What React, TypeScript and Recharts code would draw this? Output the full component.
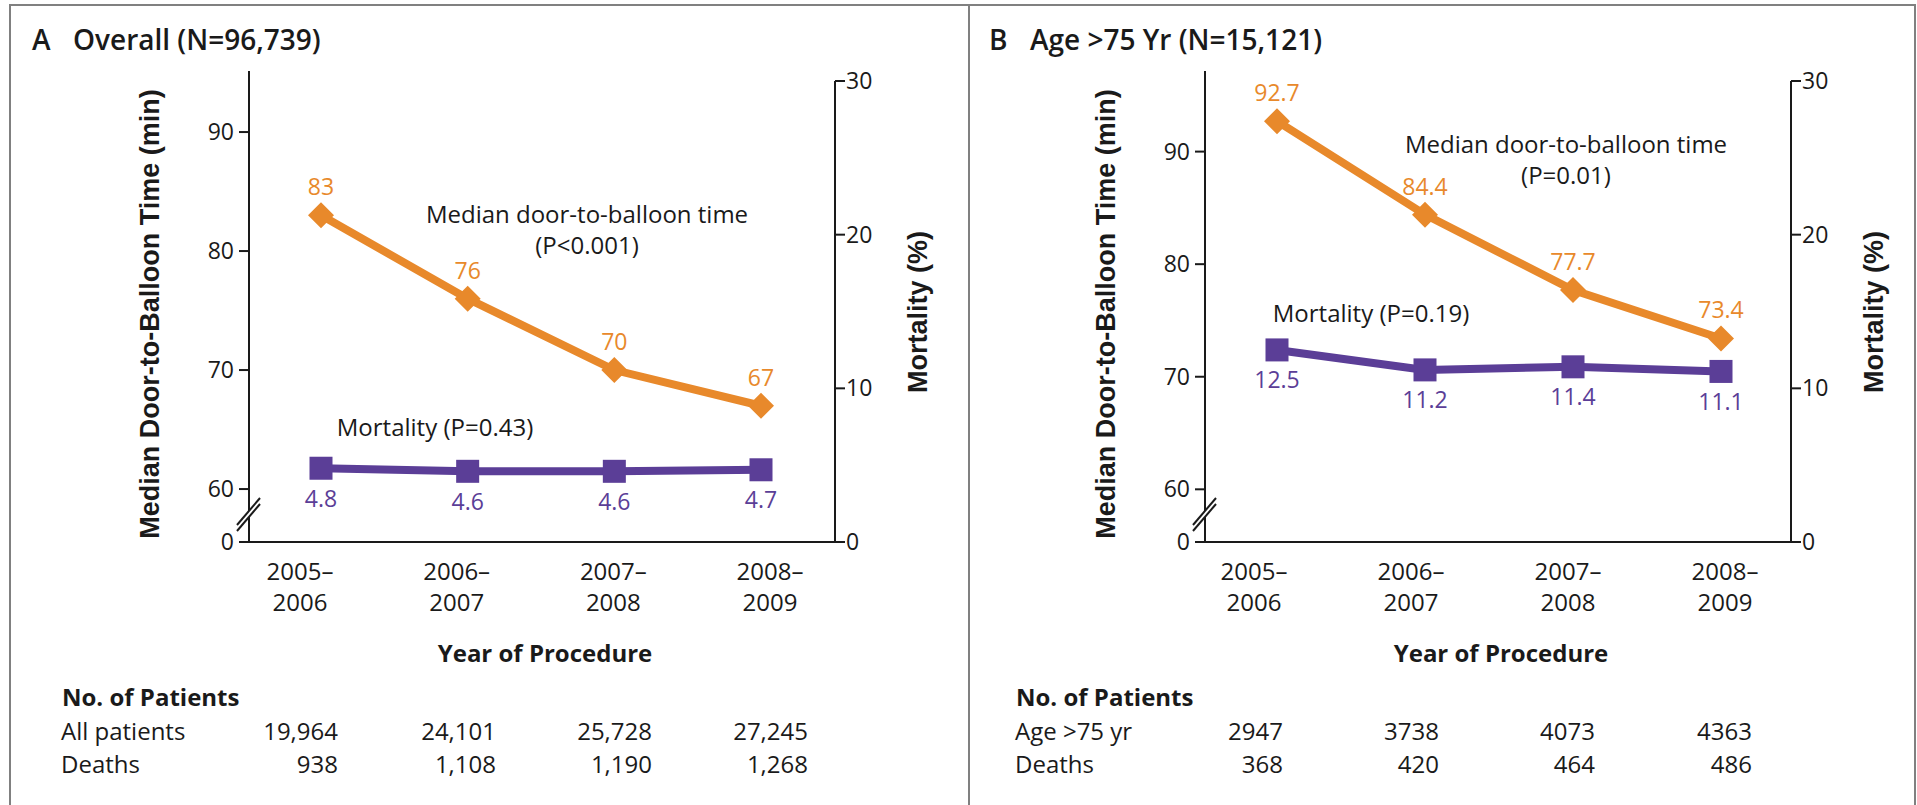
import React from 'react';
import { LineChart, Line, XAxis, YAxis, LabelList } from 'recharts';

// periods on the x axis
const categories = ['2005–2006', '2006–2007', '2007–2008', '2008–2009'];

// panel A: overall
const overallTime = [83, 76, 70, 67];
const overallMortality = [4.8, 4.6, 4.6, 4.7];
const overallPatients = ['19,964', '24,101', '25,728', '27,245'];
const overallDeaths = ['938', '1,108', '1,190', '1,268'];

// panel B: age > 75
const elderlyTime = [92.7, 84.4, 77.7, 73.4];
const elderlyMortality = [12.5, 11.2, 11.4, 11.1];
const elderlyPatients = ['2947', '3738', '4073', '4363'];
const elderlyDeaths = ['368', '420', '464', '486'];

const timeTicks = [60, 70, 80, 90];
const mortalityTicks = [0, 10, 20, 30];

const ORANGE = '#E8892B';
const PURPLE = '#5B3E97';
const INK = '#1a1a1a';
const FONT = '"Open Sans", sans-serif';
const TITLE_FONT = '"Liberation Sans", Arial, sans-serif';

const W = 955;
const H = 680;
const PLOT_L = 249;
const PLOT_R = 835;
const PLOT_T = 71;
const PLOT_B = 542;
const TOP_30 = 81; // right axis line starts at its 30 tick
const MORT_MAX = (30 * (PLOT_B - PLOT_T)) / (PLOT_B - TOP_30);

const Diamond = (p: any) => {
  const { cx, cy } = p;
  if (cx == null || cy == null) return null;
  const r = 13;
  return <polygon key={p.key} points={`${cx},${cy - r} ${cx + r},${cy} ${cx},${cy + r} ${cx - r},${cy}`} fill={ORANGE} />;
};

const Square = (p: any) => {
  const { cx, cy } = p;
  if (cx == null || cy == null) return null;
  return <rect key={p.key} x={cx - 11.5} y={cy - 11.5} width={23} height={23} fill={PURPLE} />;
};

const YearTick = (p: any) => {
  const { x, y, payload } = p;
  const [a, b] = String(payload.value).split('–');
  return (
    <text x={x} y={y} textAnchor="middle" fontSize={24} fontFamily={FONT} fill={INK}>
      <tspan x={x} dy={34}>{a}–</tspan>
      <tspan x={x} dy={31}>{b}</tspan>
    </text>
  );
};

interface PanelProps {
  letter: string;
  title: string;
  titleX: number;
  time: number[];
  mortality: number[];
  timeDomain: [number, number];
  pointPad: { left: number; right: number };
  labelPad: { left: number; right: number };
  medianNote: { x: number; y: number; p: string };
  mortalityNote: { x: number; y: number; text: string };
  rowLabel: string;
  rowLabelX: number;
  patients: string[];
  deaths: string[];
  colRight: number[];
}

function Panel(props: PanelProps) {
  const { letter, title, titleX, time, mortality, timeDomain, pointPad, labelPad, medianNote, mortalityNote } = props;
  const data = categories.map((period, i) => ({ period, time: time[i], mortality: mortality[i] }));
  const breakY = PLOT_B - 28;

  return (
    <div style={{ position: 'relative', width: W, height: 805 }}>
      <LineChart width={W} height={H} data={data} margin={{ top: PLOT_T, left: PLOT_L - 80, right: W - PLOT_R - 80, bottom: 34 }}>
        <XAxis
          xAxisId="a_pts"
          dataKey="period"
          padding={pointPad}
          height={4}
          tick={false}
          tickLine={false}
          axisLine={{ stroke: INK, strokeWidth: 2 }}
        />
        <XAxis
          xAxisId="b_lbl"
          dataKey="period"
          padding={labelPad}
          height={100}
          axisLine={false}
          tickLine={false}
          tickSize={0}
          tickMargin={0}
          interval={0}
          tick={<YearTick />}
        />
        <YAxis
          yAxisId="time"
          width={80}
          domain={timeDomain}
          allowDataOverflow
          ticks={[timeDomain[0], ...timeTicks]}
          interval={0}
          tickFormatter={(v: number) => (v === timeDomain[0] ? '0' : String(v))}
          axisLine={{ stroke: INK, strokeWidth: 2 }}
          tickLine={{ stroke: INK, strokeWidth: 2 }}
          tickSize={10}
          tickMargin={5}
          tick={{ fontSize: 23, fill: INK, fontFamily: FONT }}
        />
        <YAxis
          yAxisId="mort"
          orientation="right"
          width={80}
          domain={[0, MORT_MAX]}
          allowDataOverflow
          ticks={mortalityTicks}
          interval={0}
          axisLine={false}
          tickLine={{ stroke: INK, strokeWidth: 2 }}
          tickSize={10}
          tickMargin={1}
          tick={{ fontSize: 23, fill: INK, fontFamily: FONT }}
        />
        <Line
          xAxisId="a_pts"
          yAxisId="mort"
          dataKey="mortality"
          type="linear"
          stroke={PURPLE}
          strokeWidth={8}
          dot={Square}
          activeDot={false}
          isAnimationActive={false}
        >
          <LabelList dataKey="mortality" position="bottom" offset={22} fill={PURPLE} fontSize={23} fontFamily={FONT} />
        </Line>
        <Line
          xAxisId="a_pts"
          yAxisId="time"
          dataKey="time"
          type="linear"
          stroke={ORANGE}
          strokeWidth={8}
          dot={Diamond}
          activeDot={false}
          isAnimationActive={false}
        >
          <LabelList dataKey="time" position="top" offset={20} fill={ORANGE} fontSize={23} fontFamily={FONT} />
        </Line>
      </LineChart>

      <svg width={W} height={805} style={{ position: 'absolute', left: 0, top: 0, pointerEvents: 'none' }}>
        {/* panel title */}
        <text x={titleX} y={50} fontSize={28} fontWeight={600} fontFamily={FONT} fill={INK}>{letter}</text>
        <text x={titleX + 41} y={50} fontSize={28} fontWeight={600} fontFamily={FONT} fill={INK}>{title}</text>

        {/* axis titles */}
        <text transform={`translate(149,314) rotate(-90)`} y={10} textAnchor="middle" fontSize={27} fontWeight={700} fontFamily={TITLE_FONT} fill={INK}>
          Median Door-to-Balloon Time (min)
        </text>
        <text transform={`translate(917,312) rotate(-90)`} y={10} textAnchor="middle" fontSize={27} fontWeight={700} fontFamily={TITLE_FONT} fill={INK}>
          Mortality (%)
        </text>

        {/* right axis line from the 30 tick down */}
        <line x1={PLOT_R} x2={PLOT_R} y1={TOP_30} y2={PLOT_B + 1} stroke={INK} strokeWidth={2} />

        {/* axis break on the left axis */}
        <polygon points={`${PLOT_L - 12},${breakY + 11} ${PLOT_L + 11},${breakY - 16} ${PLOT_L + 11},${breakY - 10} ${PLOT_L - 12},${breakY + 17}`} fill="#fff" />
        <line x1={PLOT_L - 12} y1={breakY + 11} x2={PLOT_L + 11} y2={breakY - 16} stroke={INK} strokeWidth={2} />
        <line x1={PLOT_L - 12} y1={breakY + 17} x2={PLOT_L + 11} y2={breakY - 10} stroke={INK} strokeWidth={2} />

        {/* series notes */}
        <text x={medianNote.x} y={medianNote.y} textAnchor="middle" fontSize={24} fontFamily={FONT} fill={INK}>Median door-to-balloon time</text>
        <text x={medianNote.x} y={medianNote.y + 31} textAnchor="middle" fontSize={24} fontFamily={FONT} fill={INK}>{medianNote.p}</text>
        <text x={mortalityNote.x} y={mortalityNote.y} textAnchor="middle" fontSize={24} fontFamily={FONT} fill={INK}>{mortalityNote.text}</text>

        <text x={(PLOT_L + PLOT_R) / 2 + 3} y={662} textAnchor="middle" fontSize={24} fontWeight={700} fontFamily={FONT} fill={INK}>Year of Procedure</text>

        {/* patient counts */}
        <text x={props.rowLabelX + 1} y={706} fontSize={24} fontWeight={700} fontFamily={FONT} fill={INK}>No. of Patients</text>
        <text x={props.rowLabelX} y={740} fontSize={24} fontFamily={FONT} fill={INK}>{props.rowLabel}</text>
        <text x={props.rowLabelX} y={773} fontSize={24} fontFamily={FONT} fill={INK}>Deaths</text>
        {props.patients.map((v, i) => (
          <text key={'p' + i} x={props.colRight[i]} y={740} textAnchor="end" fontSize={24} fontFamily={FONT} fill={INK}>{v}</text>
        ))}
        {props.deaths.map((v, i) => (
          <text key={'d' + i} x={props.colRight[i]} y={773} textAnchor="end" fontSize={24} fontFamily={FONT} fill={INK}>{v}</text>
        ))}
      </svg>
    </div>
  );
}

export default function App() {
  return (
    <div style={{ position: 'relative', width: 1917, height: 805, overflow: 'hidden', background: '#fff', fontFamily: FONT }}>
      <style>{`body { margin: 0; }`}</style>
      <div style={{ position: 'absolute', left: 9, top: 4, width: 1907, height: 900, border: '2px solid #808080', boxSizing: 'border-box' }} />
      <div style={{ position: 'absolute', left: 968, top: 4, width: 2, height: 900, background: '#808080' }} />

      <div style={{ position: 'absolute', left: 0, top: 0 }}>
        <Panel
          letter="A"
          title="Overall (N=96,739)"
          titleX={32}
          time={overallTime}
          mortality={overallMortality}
          timeDomain={[55.55, 95.13]}
          pointPad={{ left: 72, right: 74 }}
          labelPad={{ left: 51, right: 65 }}
          medianNote={{ x: 587, y: 223, p: '(P<0.001)' }}
          mortalityNote={{ x: 435, y: 436, text: 'Mortality (P=0.43)' }}
          rowLabel="All patients"
          rowLabelX={61}
          patients={overallPatients}
          deaths={overallDeaths}
          colRight={[338, 496, 652, 808]}
        />
      </div>

      <div style={{ position: 'absolute', left: 956, top: 0 }}>
        <Panel
          letter="B"
          title="Age >75 Yr (N=15,121)"
          titleX={33}
          time={elderlyTime}
          mortality={elderlyMortality}
          timeDomain={[55.32, 97.16]}
          pointPad={{ left: 72, right: 70 }}
          labelPad={{ left: 49, right: 66 }}
          medianNote={{ x: 610, y: 153, p: '(P=0.01)' }}
          mortalityNote={{ x: 415, y: 322, text: 'Mortality (P=0.19)' }}
          rowLabel="Age >75 yr"
          rowLabelX={59}
          patients={elderlyPatients}
          deaths={elderlyDeaths}
          colRight={[327, 483, 639, 796]}
        />
      </div>
    </div>
  );
}
